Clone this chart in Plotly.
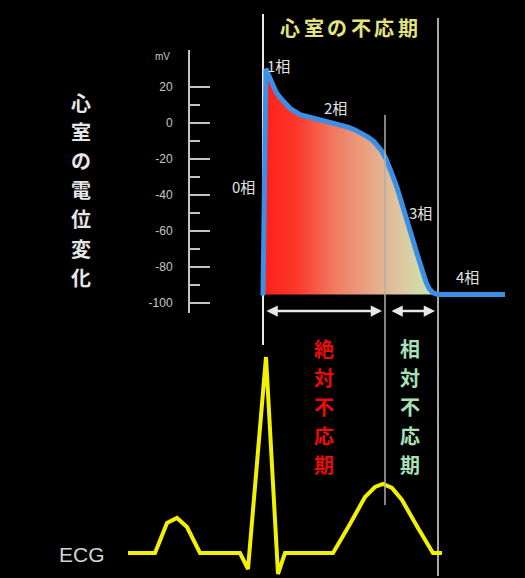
import plotly.graph_objects as go

W, H = 525, 578

# ---- Data ----
# Ventricular action potential (time ms, membrane potential mV)
ap_time = [0, 6, 12, 18, 26, 34, 44, 54, 74, 94, 114, 134, 154, 170, 184, 198, 210, 222, 230, 238, 246, 254, 260, 268, 274, 282, 290, 298, 306, 314, 320, 326, 332, 340, 350, 484]
ap_mv = [-96, 30, 26, 22, 17, 14, 10.5, 8, 4.5, 3, 1.5, 0, -1, -2.5, -4, -6, -8, -10.5, -13, -16, -20, -25, -30, -36, -42, -49, -56, -63.5, -71, -78, -84, -88.5, -92, -94.5, -95.5, -95.5]
ap_fill_end = 350
baseline_mv = -95.5

# ECG (time ms, relative amplitude)
ecg_time = [-270, -216, -192, -172, -152, -126, -46, -30, 6, 30, 44, 140, 174, 204, 224, 240, 258, 278, 310, 340, 358]
ecg_val = [0, 0, 0.15, 0.175, 0.13, 0, 0, -0.08, 0.98, -0.105, 0, 0, 0.145, 0.28, 0.33, 0.345, 0.325, 0.265, 0.125, 0, 0]

# Axis ticks
mv_ticks = [20, 0, -20, -40, -60, -80, -100]
mv_minor = [10, -10, -30, -50, -70, -90]

# Texts
title_text = "心室の不応期"
ylabel_text = "心室の電位変化"
abs_text = "絶対不応期"
rel_text = "相対不応期"
phase_labels = ["0相", "1相", "2相", "3相", "4相"]

# Refractory periods (ms)
abs_period = (4, 238)
rel_period = (254, 344)

# Event times (ms)
t_upstroke = 0
t_abs_end = 244
t_rel_end = 350

JP = "Noto Sans CJK JP"

def px(x):
    return x / W

def py(y):
    return 1 - y / H

fig = go.Figure()

# Gradient fill under action potential
fx = [t for t in ap_time if t <= ap_fill_end]
fy = ap_mv[:len(fx)]
fig.add_trace(go.Scatter(
    x=fx + [fx[-1], fx[0]],
    y=fy + [baseline_mv, baseline_mv],
    fill="toself",
    mode="lines",
    line=dict(width=0),
    fillgradient=dict(
        type="horizontal",
        colorscale=[[0, "#ff1e1a"], [0.2, "#fb3a2c"], [0.4, "#f07860"],
                    [0.62, "#e8a888"], [0.77, "#dec4a0"], [0.9, "#d0dca8"], [1, "#bfe8b0"]],
    ),
    hoverinfo="skip", showlegend=False,
    xaxis="x", yaxis="y",
))

# AP line
fig.add_trace(go.Scatter(
    x=ap_time, y=ap_mv, mode="lines",
    line=dict(color="#3c8fe6", width=5),
    showlegend=False, xaxis="x", yaxis="y",
))

# ECG
fig.add_trace(go.Scatter(
    x=ecg_time, y=ecg_val, mode="lines",
    line=dict(color="#f2f200", width=4),
    showlegend=False, xaxis="x2", yaxis="y2",
))

# mV axis: pixel y = 122.7 - 1.8*mV
y_top_mv = (122.7 - 50) / 1.8
y_bot_mv = (122.7 - 313) / 1.8
xr = [-526, 524]

axis_col = "#c4c4c4"
fig.update_layout(
    width=W, height=H,
    margin=dict(l=0, r=0, t=0, b=0),
    paper_bgcolor="black", plot_bgcolor="rgba(0,0,0,0)",
    xaxis=dict(domain=[0, 1], range=xr, visible=False, anchor="y"),
    yaxis=dict(
        domain=[py(313), py(50)], range=[y_bot_mv, y_top_mv],
        anchor="free", position=px(189), side="left",
        showline=True, linecolor=axis_col, linewidth=2,
        showgrid=False, zeroline=False,
        ticks="inside", ticklen=20, tickwidth=2, tickcolor=axis_col,
        tickmode="array", tickvals=mv_ticks, ticktext=[str(v) for v in mv_ticks],
        tickfont=dict(color="#c8c8c8", size=12, family="Liberation Sans"),
        ticklabelstandoff=13,
        minor=dict(tickmode="array", tickvals=mv_minor, ticks="inside",
                   ticklen=10, tickwidth=2, tickcolor=axis_col),
    ),
    xaxis2=dict(domain=[0, 1], range=xr, visible=False, anchor="y2"),
    yaxis2=dict(domain=[0, 1], range=[-0.125, 2.765], visible=False, anchor="x2"),
)

# Vertical guide lines
fig.add_shape(type="line", xref="x", yref="paper", x0=t_upstroke, x1=t_upstroke,
              y0=py(345), y1=py(14), line=dict(color="#e8e8e8", width=2), layer="below")
fig.add_shape(type="line", xref="x", yref="paper", x0=t_abs_end, x1=t_abs_end,
              y0=py(505), y1=py(115), line=dict(color="rgba(175,175,175,0.75)", width=2), layer="above")
fig.add_shape(type="line", xref="x", yref="paper", x0=t_rel_end, x1=t_rel_end,
              y0=py(576), y1=py(18), line=dict(color="#a8a8a8", width=2), layer="below")

# Double-headed arrows
arrow_mv = (122.7 - 311) / 1.8
for a, b in (abs_period, rel_period):
    fig.add_annotation(x=b, y=arrow_mv, ax=a, ay=arrow_mv, xref="x", yref="y",
                       axref="x", ayref="y", text="", showarrow=True,
                       arrowside="end+start", arrowhead=2, arrowsize=0.9,
                       arrowwidth=2.5, arrowcolor="#e8e8e8")

def text(x, y, s, size, color, bold=False, family=JP):
    fig.add_annotation(x=px(x), y=py(y), xref="paper", yref="paper", text=("<b>%s</b>" % s) if bold else s,
                       showarrow=False, font=dict(size=size, color=color, family=family),
                       xanchor="center", yanchor="middle")

# Title (spaced characters)
for i, ch in enumerate(title_text):
    text(290 + i * 23.6, 27, ch, 20, "#e4e47e", bold=True)
# mV label
text(162, 56, "mV", 10, "#c8c8c8", family="Liberation Sans")
# Left vertical label
for i, ch in enumerate(ylabel_text):
    text(81, 102 + i * 29.2, ch, 20, "#e6e6e6", bold=True)
# Refractory labels
for i, ch in enumerate(abs_text):
    text(324, 348 + i * 29, ch, 20, "#e80c0c", bold=True)
for i, ch in enumerate(rel_text):
    text(410, 348 + i * 29, ch, 20, "#a8e0b8", bold=True)
# Phase labels
phase_pos = [(243, 187), (278, 65), (335, 108), (420, 212), (467, 276)]
for lab, (x, y) in zip(phase_labels, phase_pos):
    text(x, y, lab, 15, "#e2e2e2")
# ECG label
text(82, 554, "ECG", 21, "#d4d4d4", family="Liberation Sans")

fig.write_html("out.html", config={"displayModeBar": False},
               post_script="document.body.style.margin='0';document.body.style.background='black';")
